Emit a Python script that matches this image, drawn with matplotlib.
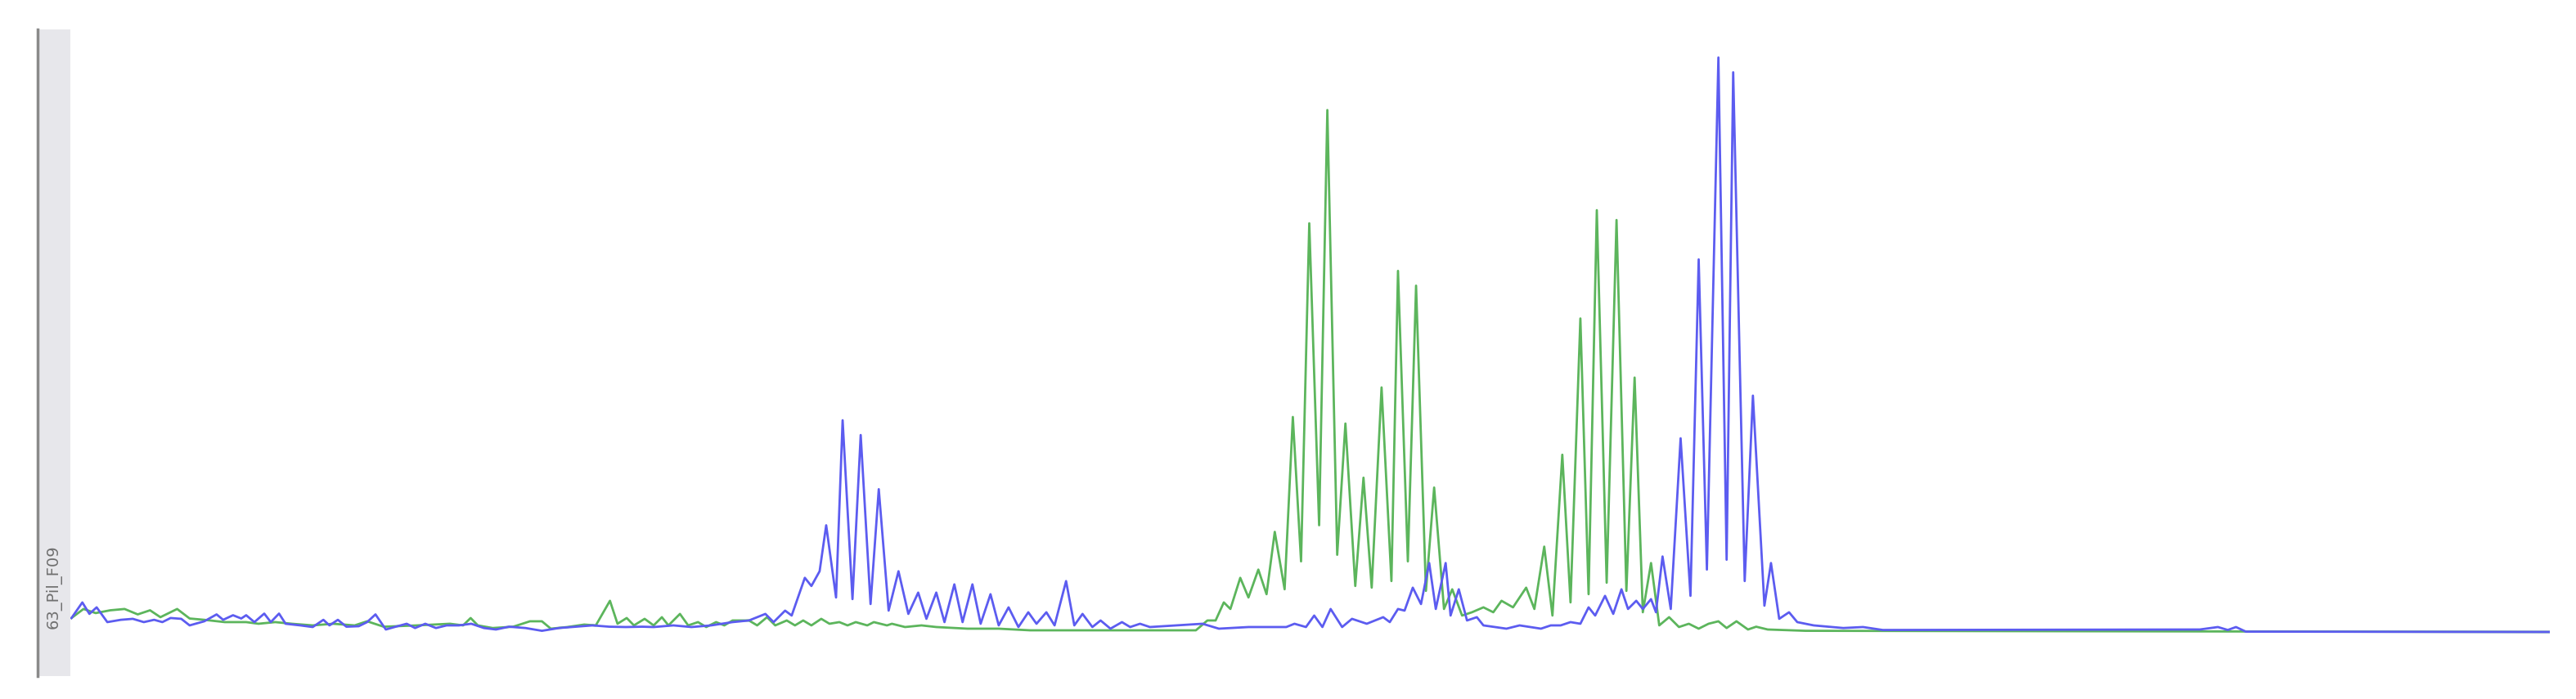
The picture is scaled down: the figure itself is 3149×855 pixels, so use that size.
import matplotlib
matplotlib.use("Agg")
import matplotlib.pyplot as plt

# trace values (position, signal)
blue_x = [43.7, 50.3, 54.6, 59, 65.5, 73.7, 81, 87.7, 94, 99, 104, 110.5, 115.6, 124.5, 132, 136, 142, 147,
          150, 155, 161, 165, 170, 174, 183, 190.5, 197, 200.7, 205.8, 211, 218.5, 223.6, 228.7, 235, 241,
          247.7, 252.8, 259, 265.5, 272, 279.5, 287, 294.7, 302, 310, 320, 330, 340.4, 350.6, 360.8, 371,
          381, 391, 398, 410, 421, 433, 446, 456, 466, 471, 478, 482, 490, 494, 499, 503, 509, 513, 519,
          524, 530, 535, 541, 547, 553, 559, 564, 570, 575, 581, 586, 592, 597, 603, 608, 614, 620, 626,
          631, 637, 642, 649, 654, 659, 665, 670, 676, 683, 688, 694, 700, 732, 742, 760, 783, 788, 795,
          800, 805, 810, 817, 823, 832, 842, 846, 851, 855, 860, 865, 870, 874, 880, 883, 888, 893, 899,
          903, 917, 925, 938, 944, 950, 956, 962, 967, 971, 977, 982, 987, 991, 996, 1000, 1005, 1008,
          1012, 1017, 1023, 1029, 1034, 1039, 1046, 1051, 1055, 1062, 1067, 1074, 1078, 1083, 1089, 1094,
          1104, 1122, 1134, 1146, 1339, 1350, 1356, 1361, 1367, 1552]
blue_y = [8.5, 18, 11, 15, 6, 7.4, 8, 6, 7.4, 6, 8.5, 8, 4, 6.5, 10.7, 7.4, 10.2, 8.2,
          10.2, 6, 11.2, 6, 11.2, 5, 4, 3, 7.4, 4, 7.4, 3.2, 3.5, 6, 10.7, 1.5, 3.2,
          5, 2.4, 5, 2.4, 4, 4, 5, 2.4, 1.5, 3.2, 2.4, 0.7, 2.4, 3.2, 4, 3.2,
          3, 3.2, 3, 4, 3, 4, 6, 7, 11, 6, 13, 10, 33, 28, 37, 65, 21, 129, 20,
          120, 17, 87, 13, 37, 11, 24, 8, 24, 6, 29, 6, 29, 5, 23, 4, 15, 3, 12,
          5, 12, 4, 31, 4, 11, 3, 7, 2, 6, 3, 5, 3, 5, 2, 3, 3, 5, 3,
          10, 3, 14, 3, 8, 5, 9, 6, 14, 13, 27, 17, 42, 14, 42, 10, 26, 7, 9,
          4, 2, 4, 2, 4, 4, 6, 5, 15, 10, 22, 11, 26, 14, 19, 14, 20, 12,
          46, 14, 118, 22, 227, 38, 350, 44, 341, 31, 144, 16, 42, 8, 12, 6,
          4, 2.4, 3, 1.2, 1.5, 3, 1.2, 3, 0.2, 0]

green_x = [43.7, 51, 58.4, 67.3, 76, 84, 91.5, 97.8, 108, 115.6, 124.5, 137, 150, 157.5, 167.7, 177.8,
           190.5, 203, 216, 223.6, 233.7, 254, 274, 282, 286.6, 291, 300, 312.5, 322.7, 330, 335.4,
           345.5, 355.7, 362.8, 371.4, 376, 381.6, 386, 392.5, 398, 403, 407, 414, 419, 425, 430, 436,
           441, 446, 456, 461, 467, 472, 479, 484, 489, 494, 500, 505, 511, 516, 521, 528, 532, 540,
           543, 551, 561, 570, 589, 608, 627, 698, 728, 735, 740, 745, 749, 755, 760, 766, 771, 776,
           782, 787, 792, 797, 803, 808, 814, 819, 825, 830, 835, 841, 847, 851, 857, 862, 868, 873,
           879, 884, 890, 896, 903, 909, 914, 921, 929, 934, 940, 945, 951, 956, 962, 967, 972,
           978, 984, 990, 995, 1000, 1005, 1010, 1016, 1022, 1028, 1034, 1040, 1046, 1051, 1057, 1064,
           1069, 1076, 1099, 1552]
green_y = [8.5, 14, 11.5, 13.2, 14, 10.7, 13.2, 9, 14, 8.2, 7.4, 6, 6, 5, 6, 5,
           4, 5, 4, 6.5, 3.2, 4, 5, 4, 8.5, 4, 2.4, 3.2, 6.5, 6.5, 2,
           3, 4.5, 4, 19, 5, 8.5, 4, 8, 4, 9, 4, 11, 4, 6, 3, 6,
           4, 7, 7, 4, 9, 4, 7, 4, 7, 4, 8, 5, 6, 4, 6, 4, 6, 4,
           5, 3, 4, 3, 2, 2, 1, 1, 1, 7, 7, 18, 14, 33, 21, 38, 23, 61,
           26, 131, 43, 249, 65, 318, 47, 127, 28, 94, 27, 149, 31, 220, 43, 211, 25, 88,
           14, 26, 10, 12, 15, 12, 19, 15, 27, 14, 52, 10, 108, 18, 191, 23, 257,
           30, 251, 25, 155, 12, 42, 4, 9, 3, 5, 2, 5, 6.5, 2.4, 6.5, 1.5,
           3.2, 1.5, 0.7, 0]

sample_label = "63_Pil_F09"

W, H = 3149, 855
fig = plt.figure(figsize=(W / 100, H / 100), dpi=100)
fig.patch.set_facecolor("white")

bot = (H - 827) / H
top = (H - 36) / H

# grey label strip on the left
lab = fig.add_axes([46 / W, bot, 40 / W, top - bot])
lab.set_facecolor("#e7e7eb")
lab.set_xticks([])
lab.set_yticks([])
for s in ["top", "right", "bottom"]:
    lab.spines[s].set_visible(False)
lab.spines["left"].set_color("#8a8a8a")
lab.spines["left"].set_linewidth(2.5)
lab.text(0.5, 0.138, sample_label, rotation=90, ha="center", va="center",
         transform=lab.transAxes, fontsize=14, color="#707070")

# trace panel
ax = fig.add_axes([86 / W, bot, (3117 - 86) / W, top - bot])
ax.plot(green_x, green_y, color="#5cb55c", lw=2.0)
ax.plot(blue_x, blue_y, color="#5c5cf0", lw=2.0)
ax.set_xlim(43, 1552)
ax.set_ylim(-26.9, 367.1)
ax.axis("off")

fig.savefig("out.png", dpi=100, facecolor="white")
